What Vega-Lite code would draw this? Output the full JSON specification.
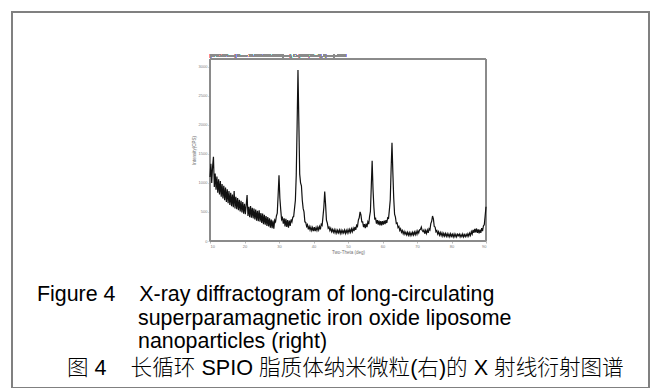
{
  "$schema": "https://vega.github.io/schema/vega-lite/v6.json",
  "width": 637,
  "height": 376,
  "autosize": {"type": "none"},
  "padding": {"left": 12, "top": 12, "right": 5, "bottom": 0},
  "background": "white",
  "config": {
    "view": {"stroke": "#808080", "strokeWidth": 2},
    "font": "Liberation Sans"
  },
  "title": {
    "text": [
      "Figure 4\u00a0\u00a0\u00a0\u00a0X-ray diffractogram of long-circulating",
      "\u200b\u00a0\u00a0\u00a0\u00a0\u00a0\u00a0\u00a0\u00a0\u00a0\u00a0\u00a0\u00a0\u00a0\u00a0\u00a0\u00a0\u00a0superparamagnetic iron oxide liposome",
      "\u200b\u00a0\u00a0\u00a0\u00a0\u00a0\u00a0\u00a0\u00a0\u00a0\u00a0\u00a0\u00a0\u00a0\u00a0\u00a0\u00a0\u00a0nanoparticles (right)"
    ],
    "subtitle": "\u200b\u00a0\u00a0\u00a0\u00a0\u00a0图\u00a04\u00a0\u00a0\u00a0\u00a0长循环 SPIO 脂质体纳米微粒(右)的 X 射线衍射图谱",
    "orient": "bottom",
    "anchor": "start",
    "frame": "group",
    "offset": -104,
    "dx": 25,
    "font": "Liberation Sans, Arial, Noto Sans CJK SC",
    "fontSize": 21.4,
    "fontWeight": "normal",
    "lineHeight": 23.5,
    "color": "#000000",
    "subtitleFont": "Liberation Sans, Arial, Noto Sans CJK SC",
    "subtitleFontSize": 21.6,
    "subtitleFontWeight": 300,
    "subtitleColor": "#000000",
    "subtitlePadding": 5.5
  },
  "data": {
    "values": [
      {"t": 10, "i": 1100}, {"t": 10.25, "i": 1330}, {"t": 10.5, "i": 1000}, {"t": 10.75, "i": 1280},
      {"t": 11, "i": 1450}, {"t": 11.25, "i": 930}, {"t": 11.5, "i": 1160}, {"t": 11.75, "i": 880},
      {"t": 12, "i": 1110}, {"t": 12.25, "i": 830}, {"t": 12.5, "i": 1060}, {"t": 12.75, "i": 800},
      {"t": 13, "i": 1030}, {"t": 13.25, "i": 760}, {"t": 13.5, "i": 980}, {"t": 13.75, "i": 730},
      {"t": 14, "i": 950}, {"t": 14.25, "i": 700}, {"t": 14.5, "i": 920}, {"t": 14.75, "i": 670},
      {"t": 15, "i": 890}, {"t": 15.25, "i": 650}, {"t": 15.5, "i": 860}, {"t": 15.75, "i": 620},
      {"t": 16, "i": 830}, {"t": 16.25, "i": 600}, {"t": 16.5, "i": 800}, {"t": 16.75, "i": 580},
      {"t": 17, "i": 860}, {"t": 17.25, "i": 560}, {"t": 17.5, "i": 760}, {"t": 17.75, "i": 545},
      {"t": 18, "i": 740}, {"t": 18.25, "i": 530}, {"t": 18.5, "i": 710}, {"t": 18.75, "i": 510},
      {"t": 19, "i": 690}, {"t": 19.25, "i": 490}, {"t": 19.5, "i": 670}, {"t": 19.75, "i": 470},
      {"t": 20, "i": 640}, {"t": 20.25, "i": 460}, {"t": 20.5, "i": 620}, {"t": 20.75, "i": 790},
      {"t": 21, "i": 430}, {"t": 21.25, "i": 590}, {"t": 21.5, "i": 410}, {"t": 21.75, "i": 600},
      {"t": 22, "i": 400}, {"t": 22.25, "i": 570}, {"t": 22.5, "i": 390}, {"t": 22.75, "i": 560},
      {"t": 23, "i": 370}, {"t": 23.25, "i": 540}, {"t": 23.5, "i": 350}, {"t": 23.75, "i": 520},
      {"t": 24, "i": 340}, {"t": 24.25, "i": 530}, {"t": 24.5, "i": 330}, {"t": 24.75, "i": 480},
      {"t": 25, "i": 310}, {"t": 25.25, "i": 470}, {"t": 25.5, "i": 290}, {"t": 25.75, "i": 450},
      {"t": 26, "i": 280}, {"t": 26.25, "i": 430}, {"t": 26.5, "i": 260}, {"t": 26.75, "i": 410},
      {"t": 27, "i": 250}, {"t": 27.25, "i": 390}, {"t": 27.5, "i": 230}, {"t": 27.75, "i": 370},
      {"t": 28, "i": 220}, {"t": 28.25, "i": 350}, {"t": 28.5, "i": 210}, {"t": 28.75, "i": 360},
      {"t": 29, "i": 330}, {"t": 29.25, "i": 430}, {"t": 29.5, "i": 480}, {"t": 29.75, "i": 790},
      {"t": 30, "i": 1130}, {"t": 30.25, "i": 740}, {"t": 30.5, "i": 540}, {"t": 30.75, "i": 370},
      {"t": 31, "i": 400}, {"t": 31.25, "i": 300}, {"t": 31.5, "i": 390}, {"t": 31.75, "i": 250},
      {"t": 32, "i": 380}, {"t": 32.25, "i": 240}, {"t": 32.5, "i": 360}, {"t": 32.75, "i": 230},
      {"t": 33, "i": 350}, {"t": 33.25, "i": 260}, {"t": 33.5, "i": 370}, {"t": 33.75, "i": 330},
      {"t": 34, "i": 410}, {"t": 34.25, "i": 420}, {"t": 34.5, "i": 560}, {"t": 34.75, "i": 700},
      {"t": 35, "i": 1130}, {"t": 35.25, "i": 1980}, {"t": 35.5, "i": 2940}, {"t": 35.75, "i": 2050},
      {"t": 36, "i": 1150}, {"t": 36.25, "i": 1000}, {"t": 36.5, "i": 950}, {"t": 36.75, "i": 700},
      {"t": 37, "i": 560}, {"t": 37.25, "i": 500}, {"t": 37.5, "i": 330}, {"t": 37.75, "i": 320},
      {"t": 38, "i": 250}, {"t": 38.25, "i": 280}, {"t": 38.5, "i": 200}, {"t": 38.75, "i": 250},
      {"t": 39, "i": 190}, {"t": 39.25, "i": 240}, {"t": 39.5, "i": 180}, {"t": 39.75, "i": 230},
      {"t": 40, "i": 170}, {"t": 40.25, "i": 240}, {"t": 40.5, "i": 170}, {"t": 40.75, "i": 230},
      {"t": 41, "i": 180}, {"t": 41.25, "i": 240}, {"t": 41.5, "i": 190}, {"t": 41.75, "i": 250},
      {"t": 42, "i": 200}, {"t": 42.25, "i": 290}, {"t": 42.5, "i": 270}, {"t": 42.75, "i": 420},
      {"t": 43, "i": 580}, {"t": 43.25, "i": 850}, {"t": 43.5, "i": 630}, {"t": 43.75, "i": 360},
      {"t": 44, "i": 310}, {"t": 44.25, "i": 220}, {"t": 44.5, "i": 240}, {"t": 44.75, "i": 180},
      {"t": 45, "i": 220}, {"t": 45.25, "i": 160}, {"t": 45.5, "i": 200}, {"t": 45.75, "i": 150},
      {"t": 46, "i": 195}, {"t": 46.25, "i": 140}, {"t": 46.5, "i": 190}, {"t": 46.75, "i": 135},
      {"t": 47, "i": 185}, {"t": 47.25, "i": 140}, {"t": 47.5, "i": 190}, {"t": 47.75, "i": 130},
      {"t": 48, "i": 185}, {"t": 48.25, "i": 135}, {"t": 48.5, "i": 180}, {"t": 48.75, "i": 140},
      {"t": 49, "i": 190}, {"t": 49.25, "i": 130}, {"t": 49.5, "i": 185}, {"t": 49.75, "i": 140},
      {"t": 50, "i": 195}, {"t": 50.25, "i": 145}, {"t": 50.5, "i": 200}, {"t": 50.75, "i": 150},
      {"t": 51, "i": 210}, {"t": 51.25, "i": 160}, {"t": 51.5, "i": 220}, {"t": 51.75, "i": 170},
      {"t": 52, "i": 240}, {"t": 52.25, "i": 190}, {"t": 52.5, "i": 270}, {"t": 52.75, "i": 250},
      {"t": 53, "i": 360}, {"t": 53.25, "i": 400}, {"t": 53.5, "i": 500}, {"t": 53.75, "i": 450},
      {"t": 54, "i": 330}, {"t": 54.25, "i": 330}, {"t": 54.5, "i": 240}, {"t": 54.75, "i": 290},
      {"t": 55, "i": 220}, {"t": 55.25, "i": 300}, {"t": 55.5, "i": 240}, {"t": 55.75, "i": 330},
      {"t": 56, "i": 290}, {"t": 56.25, "i": 420}, {"t": 56.5, "i": 510}, {"t": 56.75, "i": 940},
      {"t": 57, "i": 1380}, {"t": 57.25, "i": 890}, {"t": 57.5, "i": 580}, {"t": 57.75, "i": 380},
      {"t": 58, "i": 390}, {"t": 58.25, "i": 300}, {"t": 58.5, "i": 360}, {"t": 58.75, "i": 280},
      {"t": 59, "i": 350}, {"t": 59.25, "i": 270}, {"t": 59.5, "i": 340}, {"t": 59.75, "i": 270},
      {"t": 60, "i": 340}, {"t": 60.25, "i": 280}, {"t": 60.5, "i": 350}, {"t": 60.75, "i": 290},
      {"t": 61, "i": 360}, {"t": 61.25, "i": 310}, {"t": 61.5, "i": 400}, {"t": 61.75, "i": 390},
      {"t": 62, "i": 540}, {"t": 62.25, "i": 710}, {"t": 62.5, "i": 1240}, {"t": 62.75, "i": 1690},
      {"t": 63, "i": 1180}, {"t": 63.25, "i": 740}, {"t": 63.5, "i": 460}, {"t": 63.75, "i": 410},
      {"t": 64, "i": 300}, {"t": 64.25, "i": 310}, {"t": 64.5, "i": 230}, {"t": 64.75, "i": 250},
      {"t": 65, "i": 180}, {"t": 65.25, "i": 210}, {"t": 65.5, "i": 150}, {"t": 65.75, "i": 180},
      {"t": 66, "i": 125}, {"t": 66.25, "i": 165}, {"t": 66.5, "i": 115}, {"t": 66.75, "i": 150},
      {"t": 67, "i": 105}, {"t": 67.25, "i": 150}, {"t": 67.5, "i": 100}, {"t": 67.75, "i": 145},
      {"t": 68, "i": 95}, {"t": 68.25, "i": 140}, {"t": 68.5, "i": 100}, {"t": 68.75, "i": 150},
      {"t": 69, "i": 105}, {"t": 69.25, "i": 155}, {"t": 69.5, "i": 110}, {"t": 69.75, "i": 165},
      {"t": 70, "i": 115}, {"t": 70.25, "i": 175}, {"t": 70.5, "i": 140}, {"t": 70.75, "i": 190},
      {"t": 71, "i": 200}, {"t": 71.25, "i": 240}, {"t": 71.5, "i": 180}, {"t": 71.75, "i": 160},
      {"t": 72, "i": 190}, {"t": 72.25, "i": 125}, {"t": 72.5, "i": 180}, {"t": 72.75, "i": 130},
      {"t": 73, "i": 190}, {"t": 73.25, "i": 140}, {"t": 73.5, "i": 210}, {"t": 73.75, "i": 190},
      {"t": 74, "i": 300}, {"t": 74.25, "i": 340}, {"t": 74.5, "i": 430}, {"t": 74.75, "i": 380},
      {"t": 75, "i": 250}, {"t": 75.25, "i": 240}, {"t": 75.5, "i": 160}, {"t": 75.75, "i": 180},
      {"t": 76, "i": 120}, {"t": 76.25, "i": 160}, {"t": 76.5, "i": 100}, {"t": 76.75, "i": 145},
      {"t": 77, "i": 95}, {"t": 77.25, "i": 140}, {"t": 77.5, "i": 85}, {"t": 77.75, "i": 130},
      {"t": 78, "i": 85}, {"t": 78.25, "i": 130}, {"t": 78.5, "i": 80}, {"t": 78.75, "i": 125},
      {"t": 79, "i": 80}, {"t": 79.25, "i": 120}, {"t": 79.5, "i": 75}, {"t": 79.75, "i": 125},
      {"t": 80, "i": 80}, {"t": 80.25, "i": 115}, {"t": 80.5, "i": 70}, {"t": 80.75, "i": 120},
      {"t": 81, "i": 75}, {"t": 81.25, "i": 115}, {"t": 81.5, "i": 70}, {"t": 81.75, "i": 115},
      {"t": 82, "i": 90}, {"t": 82.25, "i": 120}, {"t": 82.5, "i": 70}, {"t": 82.75, "i": 110},
      {"t": 83, "i": 75}, {"t": 83.25, "i": 120}, {"t": 83.5, "i": 70}, {"t": 83.75, "i": 110},
      {"t": 84, "i": 75}, {"t": 84.25, "i": 115}, {"t": 84.5, "i": 80}, {"t": 84.75, "i": 125},
      {"t": 85, "i": 85}, {"t": 85.25, "i": 135}, {"t": 85.5, "i": 95}, {"t": 85.75, "i": 160},
      {"t": 86, "i": 120}, {"t": 86.25, "i": 190}, {"t": 86.5, "i": 140}, {"t": 86.75, "i": 210},
      {"t": 87, "i": 150}, {"t": 87.25, "i": 215}, {"t": 87.5, "i": 140}, {"t": 87.75, "i": 200},
      {"t": 88, "i": 130}, {"t": 88.25, "i": 195}, {"t": 88.5, "i": 140}, {"t": 88.75, "i": 220},
      {"t": 89, "i": 170}, {"t": 89.25, "i": 260}, {"t": 89.5, "i": 280}, {"t": 89.75, "i": 430},
      {"t": 90, "i": 590}
    ]
  },
  "layer": [
    {
      "mark": {"type": "rect", "fill": null, "stroke": "#8c8c8c", "strokeWidth": 0.8},
      "encoding": {
        "x": {"datum": 10, "type": "quantitative"},
        "x2": {"datum": 90},
        "y": {"datum": 0, "type": "quantitative"},
        "y2": {"datum": 3130}
      }
    },
    {
      "mark": {"type": "line", "color": "#111111", "strokeWidth": 1.2},
      "encoding": {
        "x": {
          "field": "t",
          "type": "quantitative",
          "scale": {"domain": [10, 90], "range": [198, 474], "nice": false, "zero": false},
          "axis": {
            "orient": "bottom",
            "offset": -147,
            "values": [10, 20, 30, 40, 50, 60, 70, 80, 90],
            "grid": false,
            "domain": true,
            "domainColor": "#8c8c8c",
            "domainWidth": 0.8,
            "tickColor": "#8c8c8c",
            "tickSize": 2,
            "tickWidth": 0.6,
            "labelFontSize": 4,
            "labelColor": "#808080",
            "labelPadding": 1,
            "title": "Two-Theta (deg)",
            "titleFontSize": 4.5,
            "titleFontWeight": "normal",
            "titleColor": "#707070",
            "titlePadding": 1
          }
        },
        "y": {
          "field": "i",
          "type": "quantitative",
          "scale": {"domain": [0, 3130], "range": [229, 47], "nice": false, "zero": false},
          "axis": {
            "orient": "left",
            "offset": -198,
            "values": [0, 500, 1000, 1500, 2000, 2500, 3000],
            "format": "d",
            "grid": false,
            "domain": true,
            "domainColor": "#8c8c8c",
            "domainWidth": 0.8,
            "tickColor": "#8c8c8c",
            "tickSize": 2,
            "tickWidth": 0.6,
            "labelFontSize": 4,
            "labelColor": "#808080",
            "labelPadding": 1,
            "title": "Intensity(CPS)",
            "titleFontSize": 4.5,
            "titleFontWeight": "normal",
            "titleColor": "#707070",
            "titlePadding": 2
          }
        }
      }
    },
    {
      "mark": {"type": "text", "align": "left", "baseline": "bottom", "dy": -1, "fontSize": 4, "color": "#8a8a8a"},
      "encoding": {
        "x": {"datum": 10, "type": "quantitative"},
        "y": {"datum": 3130, "type": "quantitative"},
        "text": {"value": "[SPIO-LIP.raw] Scan: 10-90/0.02/0.6/150(sec), Cu(40kV,30mA), I(max)=3006"}
      }
    }
  ]
}
